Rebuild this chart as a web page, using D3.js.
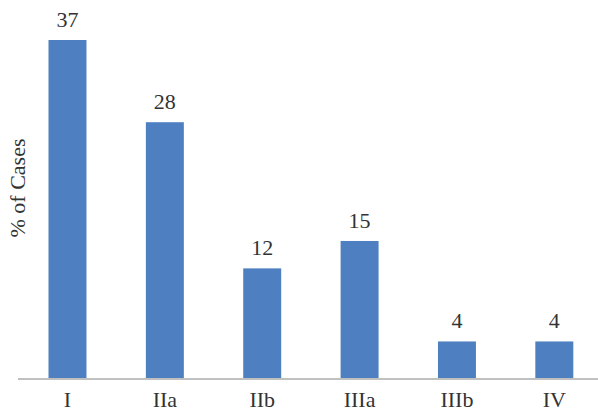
<!DOCTYPE html>
<html>
<head>
<meta charset="utf-8">
<script src="https://cdn.jsdelivr.net/npm/d3@7"></script>
<style>
html,body{margin:0;padding:0;background:#fff;}
svg{display:block;}
text{font-family:"Liberation Serif","Times New Roman",serif;fill:#333;}
</style>
</head>
<body>
<svg id="chart" width="598" height="413"></svg>
<script>
const categories = ["I", "IIa", "IIb", "IIIa", "IIIb", "IV"];
const values = [37, 28, 12, 15, 4, 4];
const yLabel = "% of Cases";

const svg = d3.select("#chart");
const x = d3.scaleBand().domain(categories).range([18.8, 603]).paddingInner(0.61).paddingOuter(0.305);
const y = d3.scaleLinear().domain([0, 37]).range([378, 40]);

svg.append("g").selectAll("rect").data(values).join("rect")
  .attr("x", (d, i) => x(categories[i]))
  .attr("width", x.bandwidth())
  .attr("y", d => y(d))
  .attr("height", d => y(0) - y(d))
  .attr("fill", "#4e7fc1");

svg.append("line")
  .attr("x1", 18).attr("x2", 598)
  .attr("y1", y(0) + 1).attr("y2", y(0) + 1)
  .attr("stroke", "#c0c0c0").attr("stroke-width", 2);

svg.append("g").selectAll("text").data(values).join("text")
  .attr("x", (d, i) => x(categories[i]) + x.bandwidth() / 2)
  .attr("y", d => y(d) - 13)
  .attr("text-anchor", "middle")
  .attr("font-size", 22)
  .text(d => d);

svg.append("g").selectAll("text").data(categories).join("text")
  .attr("x", d => x(d) + x.bandwidth() / 2)
  .attr("y", 407)
  .attr("text-anchor", "middle")
  .attr("font-size", 22)
  .text(d => d);

svg.append("text")
  .attr("transform", "translate(25,188) rotate(-90)")
  .attr("text-anchor", "middle")
  .attr("font-size", 22)
  .text(yLabel);
</script>
</body>
</html>
